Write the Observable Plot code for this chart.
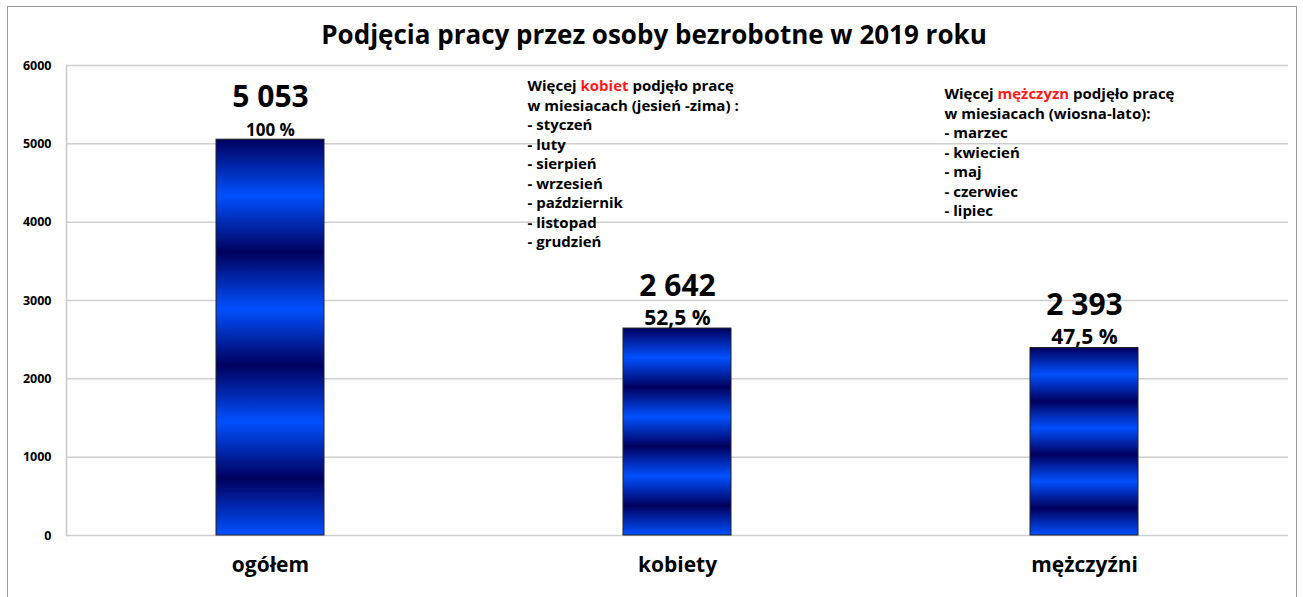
<!DOCTYPE html>
<html>
<head>
<meta charset="utf-8">
<script src="https://cdn.jsdelivr.net/npm/d3@7"></script>
<script src="https://cdn.jsdelivr.net/npm/@observablehq/plot@0.6"></script>
<style>
  html, body { margin: 0; padding: 0; background: #fff; }
  body { width: 1303px; height: 597px; overflow: hidden; position: relative; font-family: "Open Sans", sans-serif; }
  #frame { position: absolute; left: 7px; top: 6px; width: 1290px; height: 600px; border: 1px solid #9a9a9a; box-sizing: border-box; }
  #title { position: absolute; left: 0; top: 16px; width: 1308px; text-align: center; font-size: 26px; font-weight: 700; color: #000; }
  #chart { position: absolute; left: 0; top: 0; }
</style>
</head>
<body>
<div id="frame"></div>
<div id="chart"></div>
<div id="title">Podjęcia pracy przez osoby bezrobotne w 2019 roku</div>
<script>
// ---- data ----
const categories = ["ogółem", "kobiety", "mężczyźni"];
const values = [5053, 2642, 2393];
const percents = [100, 52.5, 47.5];
const yTicks = [0, 1000, 2000, 3000, 4000, 5000, 6000];
const womenNote = [
  "Więcej kobiet podjęło pracę",
  "w miesiacach (jesień -zima) :",
  "- styczeń",
  "- luty",
  "- sierpień",
  "- wrzesień",
  "- październik",
  "- listopad",
  "- grudzień"
];
const menNote = [
  "Więcej mężczyzn podjęło pracę",
  "w miesiacach (wiosna-lato):",
  "- marzec",
  "- kwiecień",
  "- maj",
  "- czerwiec",
  "- lipiec"
];
const highlightWords = ["kobiet", "mężczyzn"];

// ---- build ----
const data = categories.map((c, i) => ({category: c, value: values[i], pct: percents[i]}));
const fmtValue = v => d3.format(",")(v).replace(/,/g, " ");
const fmtPct = p => (Number.isInteger(p) ? String(p) : String(p).replace(".", ",")) + " %";

const chart = Plot.plot({
  width: 1303,
  height: 597,
  marginLeft: 66,
  marginRight: 15,
  marginTop: 65,
  marginBottom: 62,
  style: {fontFamily: "Open Sans, sans-serif", color: "#000", background: "transparent"},
  x: {type: "band", domain: categories, paddingInner: 0.735, paddingOuter: 0.3675},
  y: {domain: [0, 6000]},
  marks: [
    Plot.gridY(yTicks, {stroke: "#cfcfcf", strokeOpacity: 1, strokeWidth: 1.5}),
    Plot.frame({anchor: "left", stroke: "#c8c8c8", strokeWidth: 1.5}),
    Plot.axisY(yTicks, {tickSize: 0, tickPadding: 15, fontSize: 12.5, fontWeight: "bold", label: null, tickFormat: d => String(d)}),
    Plot.axisX({tickSize: 0, tickPadding: 22, fontSize: 21, fontWeight: "bold", label: null}),
    Plot.barY(data, {x: "category", y: "value", fill: "url(#barGrad)", stroke: "#222", strokeWidth: 1}),
    Plot.text(data, {x: "category", y: "value", text: d => fmtValue(d.value), fontSize: 30, fontWeight: "bold", lineAnchor: "bottom", dy: -33, fill: "#000"}),
    Plot.text(data, {x: "category", y: "value", text: d => fmtPct(d.pct), fontSize: d => d.category === categories[0] ? 17 : 21, fontWeight: "bold", lineAnchor: "bottom", dy: -4, fill: "#000"}),
    Plot.text([womenNote.join("\n")], {x: () => categories[1], frameAnchor: "top", textAnchor: "start", lineAnchor: "top", lineHeight: 1.3, dx: -150, dy: 12, fontSize: 15, fontWeight: "bold", fill: "#000"}),
    Plot.text([menNote.join("\n")], {x: () => categories[2], frameAnchor: "top", textAnchor: "start", lineAnchor: "top", lineHeight: 1.3, dx: -140, dy: 20, fontSize: 15, fontWeight: "bold", fill: "#000"})
  ]
});

// gradient definition for the banded bars
const ns = "http://www.w3.org/2000/svg";
const defs = document.createElementNS(ns, "defs");
const grad = document.createElementNS(ns, "linearGradient");
grad.setAttribute("id", "barGrad");
grad.setAttribute("x1", "0"); grad.setAttribute("y1", "0");
grad.setAttribute("x2", "0"); grad.setAttribute("y2", "1");
const dark = "#00005e", bright = "#0050ff";
for (let i = 0; i <= 7; i++) {
  const s = document.createElementNS(ns, "stop");
  s.setAttribute("offset", (i / 7).toFixed(4));
  s.setAttribute("stop-color", i % 2 === 0 ? dark : bright);
  grad.appendChild(s);
}
defs.appendChild(grad);
chart.insertBefore(defs, chart.firstChild);

// colour the highlighted word in the notes
for (const el of chart.querySelectorAll("text, tspan")) {
  if (el.children.length) continue;
  const t = el.textContent;
  if (!t.startsWith("Więcej")) continue;
  for (const w of highlightWords) {
    const i = t.indexOf(" " + w + " ");
    if (i < 0) continue;
    el.textContent = "";
    el.append(t.slice(0, i + 1));
    const sp = document.createElementNS(ns, "tspan");
    sp.setAttribute("fill", "#ff1a1a");
    sp.textContent = w;
    el.append(sp);
    el.append(t.slice(i + 1 + w.length));
  }
}

document.getElementById("chart").appendChild(chart);
</script>
</body>
</html>
